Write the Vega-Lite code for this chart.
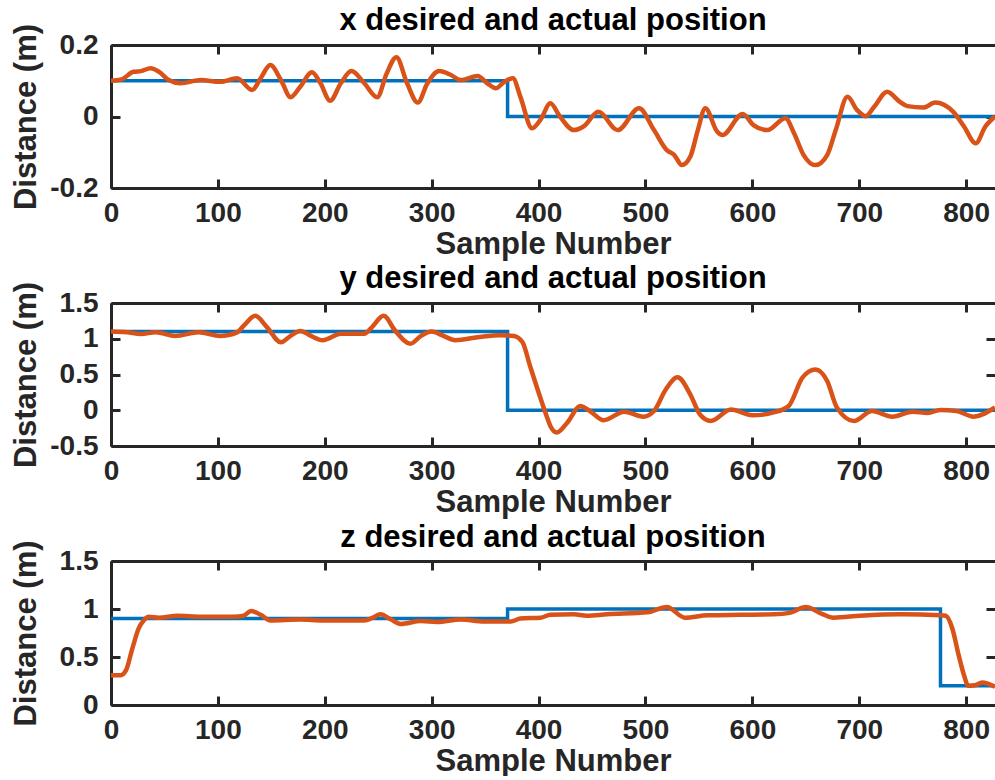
{
  "$schema": "https://vega.github.io/schema/vega-lite/v6.json",
  "padding": {"left": 10, "top": 5, "right": 0, "bottom": 0},
  "spacing": 115,
  "bounds": "flush",
  "datasets": {
    "xpos": [
      {"s": "desired", "n": 0, "v": 0.1},
      {"s": "desired", "n": 371, "v": 0},
      {"s": "desired", "n": 827, "v": 0},
      {"s": "actual", "n": 0, "v": 0.1},
      {"s": "actual", "n": 10, "v": 0.104},
      {"s": "actual", "n": 21, "v": 0.125},
      {"s": "actual", "n": 28, "v": 0.127},
      {"s": "actual", "n": 37, "v": 0.135},
      {"s": "actual", "n": 45, "v": 0.125},
      {"s": "actual", "n": 54, "v": 0.102},
      {"s": "actual", "n": 65, "v": 0.093},
      {"s": "actual", "n": 84, "v": 0.102},
      {"s": "actual", "n": 102, "v": 0.097},
      {"s": "actual", "n": 118, "v": 0.107},
      {"s": "actual", "n": 132, "v": 0.074},
      {"s": "actual", "n": 140, "v": 0.107},
      {"s": "actual", "n": 149, "v": 0.144},
      {"s": "actual", "n": 159, "v": 0.102},
      {"s": "actual", "n": 168, "v": 0.054},
      {"s": "actual", "n": 177, "v": 0.083},
      {"s": "actual", "n": 188, "v": 0.124},
      {"s": "actual", "n": 196, "v": 0.093},
      {"s": "actual", "n": 205, "v": 0.044},
      {"s": "actual", "n": 215, "v": 0.093},
      {"s": "actual", "n": 225, "v": 0.127},
      {"s": "actual", "n": 237, "v": 0.093},
      {"s": "actual", "n": 249, "v": 0.054},
      {"s": "actual", "n": 258, "v": 0.121},
      {"s": "actual", "n": 267, "v": 0.166},
      {"s": "actual", "n": 277, "v": 0.093},
      {"s": "actual", "n": 287, "v": 0.039},
      {"s": "actual", "n": 296, "v": 0.093},
      {"s": "actual", "n": 307, "v": 0.127},
      {"s": "actual", "n": 318, "v": 0.116},
      {"s": "actual", "n": 327, "v": 0.102},
      {"s": "actual", "n": 343, "v": 0.113},
      {"s": "actual", "n": 352, "v": 0.093},
      {"s": "actual", "n": 360, "v": 0.079},
      {"s": "actual", "n": 368, "v": 0.097},
      {"s": "actual", "n": 376, "v": 0.107},
      {"s": "actual", "n": 383, "v": 0.055},
      {"s": "actual", "n": 394, "v": -0.033},
      {"s": "actual", "n": 402, "v": -0.008},
      {"s": "actual", "n": 411, "v": 0.037},
      {"s": "actual", "n": 420, "v": 0.0},
      {"s": "actual", "n": 433, "v": -0.038},
      {"s": "actual", "n": 442, "v": -0.028},
      {"s": "actual", "n": 456, "v": 0.013},
      {"s": "actual", "n": 474, "v": -0.038},
      {"s": "actual", "n": 494, "v": 0.023},
      {"s": "actual", "n": 508, "v": -0.038},
      {"s": "actual", "n": 520, "v": -0.094},
      {"s": "actual", "n": 527, "v": -0.108},
      {"s": "actual", "n": 534, "v": -0.136},
      {"s": "actual", "n": 542, "v": -0.112},
      {"s": "actual", "n": 549, "v": -0.038},
      {"s": "actual", "n": 556, "v": 0.023},
      {"s": "actual", "n": 567, "v": -0.042},
      {"s": "actual", "n": 572, "v": -0.052},
      {"s": "actual", "n": 591, "v": 0.007},
      {"s": "actual", "n": 601, "v": -0.024},
      {"s": "actual", "n": 614, "v": -0.038},
      {"s": "actual", "n": 631, "v": -0.005},
      {"s": "actual", "n": 639, "v": -0.047},
      {"s": "actual", "n": 648, "v": -0.108},
      {"s": "actual", "n": 659, "v": -0.136},
      {"s": "actual", "n": 670, "v": -0.108},
      {"s": "actual", "n": 678, "v": -0.038},
      {"s": "actual", "n": 689, "v": 0.055},
      {"s": "actual", "n": 698, "v": 0.018},
      {"s": "actual", "n": 706, "v": 0.001},
      {"s": "actual", "n": 714, "v": 0.027},
      {"s": "actual", "n": 726, "v": 0.069},
      {"s": "actual", "n": 738, "v": 0.041},
      {"s": "actual", "n": 745, "v": 0.029},
      {"s": "actual", "n": 760, "v": 0.025},
      {"s": "actual", "n": 771, "v": 0.039},
      {"s": "actual", "n": 788, "v": 0.013},
      {"s": "actual", "n": 798, "v": -0.028},
      {"s": "actual", "n": 809, "v": -0.075},
      {"s": "actual", "n": 818, "v": -0.028},
      {"s": "actual", "n": 827, "v": 0.0}
    ],
    "ypos": [
      {"s": "desired", "n": 0, "v": 1.1},
      {"s": "desired", "n": 371, "v": 0},
      {"s": "desired", "n": 827, "v": 0},
      {"s": "actual", "n": 0, "v": 1.1},
      {"s": "actual", "n": 15, "v": 1.09},
      {"s": "actual", "n": 28, "v": 1.067},
      {"s": "actual", "n": 42, "v": 1.09},
      {"s": "actual", "n": 60, "v": 1.04},
      {"s": "actual", "n": 82, "v": 1.09},
      {"s": "actual", "n": 102, "v": 1.04},
      {"s": "actual", "n": 118, "v": 1.09},
      {"s": "actual", "n": 124, "v": 1.18},
      {"s": "actual", "n": 135, "v": 1.32},
      {"s": "actual", "n": 146, "v": 1.16},
      {"s": "actual", "n": 159, "v": 0.95},
      {"s": "actual", "n": 168, "v": 1.04},
      {"s": "actual", "n": 177, "v": 1.11},
      {"s": "actual", "n": 187, "v": 1.04},
      {"s": "actual", "n": 198, "v": 0.98},
      {"s": "actual", "n": 215, "v": 1.07},
      {"s": "actual", "n": 237, "v": 1.07},
      {"s": "actual", "n": 244, "v": 1.16},
      {"s": "actual", "n": 255, "v": 1.32},
      {"s": "actual", "n": 266, "v": 1.11},
      {"s": "actual", "n": 280, "v": 0.93},
      {"s": "actual", "n": 290, "v": 1.04},
      {"s": "actual", "n": 300, "v": 1.1},
      {"s": "actual", "n": 311, "v": 1.04},
      {"s": "actual", "n": 322, "v": 0.98},
      {"s": "actual", "n": 343, "v": 1.02},
      {"s": "actual", "n": 364, "v": 1.05},
      {"s": "actual", "n": 377, "v": 1.04},
      {"s": "actual", "n": 385, "v": 0.95},
      {"s": "actual", "n": 392, "v": 0.62},
      {"s": "actual", "n": 402, "v": 0.16},
      {"s": "actual", "n": 408, "v": -0.1},
      {"s": "actual", "n": 411, "v": -0.22},
      {"s": "actual", "n": 417, "v": -0.31},
      {"s": "actual", "n": 427, "v": -0.17},
      {"s": "actual", "n": 439, "v": 0.06},
      {"s": "actual", "n": 448, "v": -0.01},
      {"s": "actual", "n": 461, "v": -0.14},
      {"s": "actual", "n": 480, "v": -0.02},
      {"s": "actual", "n": 498, "v": -0.09},
      {"s": "actual", "n": 508, "v": -0.01},
      {"s": "actual", "n": 519, "v": 0.29},
      {"s": "actual", "n": 530, "v": 0.46},
      {"s": "actual", "n": 542, "v": 0.22},
      {"s": "actual", "n": 551, "v": -0.06},
      {"s": "actual", "n": 561, "v": -0.15},
      {"s": "actual", "n": 580, "v": 0.01},
      {"s": "actual", "n": 600, "v": -0.07},
      {"s": "actual", "n": 620, "v": -0.03},
      {"s": "actual", "n": 634, "v": 0.06},
      {"s": "actual", "n": 647, "v": 0.46},
      {"s": "actual", "n": 659, "v": 0.57},
      {"s": "actual", "n": 670, "v": 0.41},
      {"s": "actual", "n": 679, "v": 0.04},
      {"s": "actual", "n": 695, "v": -0.15},
      {"s": "actual", "n": 712, "v": -0.01},
      {"s": "actual", "n": 731, "v": -0.09},
      {"s": "actual", "n": 750, "v": -0.02},
      {"s": "actual", "n": 764, "v": -0.04},
      {"s": "actual", "n": 776, "v": 0.005},
      {"s": "actual", "n": 791, "v": -0.01},
      {"s": "actual", "n": 807, "v": -0.09},
      {"s": "actual", "n": 827, "v": 0.04}
    ],
    "zpos": [
      {"s": "desired", "n": 0, "v": 0.9},
      {"s": "desired", "n": 371, "v": 1.0},
      {"s": "desired", "n": 776, "v": 0.2},
      {"s": "desired", "n": 827, "v": 0.2},
      {"s": "actual", "n": 0, "v": 0.31},
      {"s": "actual", "n": 9, "v": 0.31},
      {"s": "actual", "n": 14, "v": 0.36},
      {"s": "actual", "n": 20, "v": 0.59},
      {"s": "actual", "n": 26, "v": 0.8},
      {"s": "actual", "n": 31, "v": 0.885},
      {"s": "actual", "n": 35, "v": 0.92},
      {"s": "actual", "n": 45, "v": 0.91},
      {"s": "actual", "n": 62, "v": 0.93},
      {"s": "actual", "n": 84, "v": 0.92},
      {"s": "actual", "n": 115, "v": 0.92},
      {"s": "actual", "n": 124, "v": 0.93},
      {"s": "actual", "n": 131, "v": 0.98},
      {"s": "actual", "n": 140, "v": 0.94},
      {"s": "actual", "n": 149, "v": 0.88},
      {"s": "actual", "n": 177, "v": 0.89},
      {"s": "actual", "n": 198, "v": 0.88},
      {"s": "actual", "n": 237, "v": 0.88},
      {"s": "actual", "n": 245, "v": 0.91},
      {"s": "actual", "n": 252, "v": 0.945},
      {"s": "actual", "n": 262, "v": 0.89},
      {"s": "actual", "n": 271, "v": 0.845},
      {"s": "actual", "n": 290, "v": 0.875},
      {"s": "actual", "n": 305, "v": 0.865},
      {"s": "actual", "n": 327, "v": 0.89},
      {"s": "actual", "n": 349, "v": 0.87},
      {"s": "actual", "n": 374, "v": 0.87},
      {"s": "actual", "n": 383, "v": 0.9},
      {"s": "actual", "n": 402, "v": 0.91},
      {"s": "actual", "n": 411, "v": 0.94},
      {"s": "actual", "n": 433, "v": 0.945},
      {"s": "actual", "n": 445, "v": 0.93},
      {"s": "actual", "n": 464, "v": 0.945},
      {"s": "actual", "n": 502, "v": 0.965},
      {"s": "actual", "n": 520, "v": 1.02},
      {"s": "actual", "n": 537, "v": 0.91},
      {"s": "actual", "n": 558, "v": 0.935},
      {"s": "actual", "n": 589, "v": 0.94},
      {"s": "actual", "n": 620, "v": 0.945},
      {"s": "actual", "n": 635, "v": 0.96},
      {"s": "actual", "n": 650, "v": 1.02},
      {"s": "actual", "n": 665, "v": 0.95},
      {"s": "actual", "n": 676, "v": 0.91},
      {"s": "actual", "n": 701, "v": 0.93},
      {"s": "actual", "n": 739, "v": 0.945},
      {"s": "actual", "n": 776, "v": 0.935},
      {"s": "actual", "n": 781, "v": 0.93},
      {"s": "actual", "n": 787, "v": 0.8},
      {"s": "actual", "n": 793, "v": 0.52},
      {"s": "actual", "n": 798, "v": 0.31},
      {"s": "actual", "n": 802, "v": 0.2},
      {"s": "actual", "n": 808, "v": 0.205},
      {"s": "actual", "n": 815, "v": 0.235},
      {"s": "actual", "n": 827, "v": 0.19}
    ]
  },
  "vconcat": [
    {
      "title": "x desired and actual position",
      "width": 884,
      "height": 143,
      "data": {"name": "xpos"},
      "layer": [
        {
          "transform": [{"filter": "datum.s == 'desired'"}],
          "mark": {"type": "line", "interpolate": "step-after", "color": "#0072BD", "strokeWidth": 3.5, "clip": true},
          "encoding": {
            "x": {"field": "n", "type": "quantitative", "scale": {"domain": [0, 827], "nice": false},
                  "axis": {"orient": "bottom", "title": "Sample Number", "values": [0, 100, 200, 300, 400, 500, 600, 700, 800]}},
            "y": {"field": "v", "type": "quantitative", "scale": {"domain": [-0.2, 0.2], "nice": false, "zero": false},
                  "axis": {"orient": "left", "title": "Distance (m)", "values": [-0.2, 0, 0.2], "labelExpr": "toString(datum.value)"}}
          }
        },
        {
          "transform": [{"filter": "datum.s == 'actual'"}],
          "mark": {"type": "line", "interpolate": "monotone", "color": "#D95319", "strokeWidth": 4.5, "clip": true},
          "encoding": {
            "x": {"field": "n", "type": "quantitative",
                  "axis": {"orient": "top", "title": null, "labels": false, "values": [0, 100, 200, 300, 400, 500, 600, 700, 800]}},
            "y": {"field": "v", "type": "quantitative",
                  "axis": {"orient": "right", "title": null, "labels": false, "domain": false, "values": [-0.2, 0, 0.2]}}
          }
        }
      ],
      "resolve": {"axis": {"x": "independent", "y": "independent"}}
    },
    {
      "title": "y desired and actual position",
      "width": 884,
      "height": 143,
      "data": {"name": "ypos"},
      "layer": [
        {
          "transform": [{"filter": "datum.s == 'desired'"}],
          "mark": {"type": "line", "interpolate": "step-after", "color": "#0072BD", "strokeWidth": 3.5, "clip": true},
          "encoding": {
            "x": {"field": "n", "type": "quantitative", "scale": {"domain": [0, 827], "nice": false},
                  "axis": {"orient": "bottom", "title": "Sample Number", "values": [0, 100, 200, 300, 400, 500, 600, 700, 800]}},
            "y": {"field": "v", "type": "quantitative", "scale": {"domain": [-0.5, 1.5], "nice": false, "zero": false},
                  "axis": {"orient": "left", "title": "Distance (m)", "values": [-0.5, 0, 0.5, 1, 1.5], "labelExpr": "toString(datum.value)"}}
          }
        },
        {
          "transform": [{"filter": "datum.s == 'actual'"}],
          "mark": {"type": "line", "interpolate": "monotone", "color": "#D95319", "strokeWidth": 4.5, "clip": true},
          "encoding": {
            "x": {"field": "n", "type": "quantitative",
                  "axis": {"orient": "top", "title": null, "labels": false, "values": [0, 100, 200, 300, 400, 500, 600, 700, 800]}},
            "y": {"field": "v", "type": "quantitative",
                  "axis": {"orient": "right", "title": null, "labels": false, "domain": false, "values": [-0.5, 0, 0.5, 1, 1.5]}}
          }
        }
      ],
      "resolve": {"axis": {"x": "independent", "y": "independent"}}
    },
    {
      "title": "z desired and actual position",
      "width": 884,
      "height": 144,
      "data": {"name": "zpos"},
      "layer": [
        {
          "transform": [{"filter": "datum.s == 'desired'"}],
          "mark": {"type": "line", "interpolate": "step-after", "color": "#0072BD", "strokeWidth": 3.5, "clip": true},
          "encoding": {
            "x": {"field": "n", "type": "quantitative", "scale": {"domain": [0, 827], "nice": false},
                  "axis": {"orient": "bottom", "title": "Sample Number", "values": [0, 100, 200, 300, 400, 500, 600, 700, 800]}},
            "y": {"field": "v", "type": "quantitative", "scale": {"domain": [0, 1.5], "nice": false, "zero": false},
                  "axis": {"orient": "left", "title": "Distance (m)", "values": [0, 0.5, 1, 1.5], "labelExpr": "toString(datum.value)"}}
          }
        },
        {
          "transform": [{"filter": "datum.s == 'actual'"}],
          "mark": {"type": "line", "interpolate": "monotone", "color": "#D95319", "strokeWidth": 4.5, "clip": true},
          "encoding": {
            "x": {"field": "n", "type": "quantitative",
                  "axis": {"orient": "top", "title": null, "labels": false, "values": [0, 100, 200, 300, 400, 500, 600, 700, 800]}},
            "y": {"field": "v", "type": "quantitative",
                  "axis": {"orient": "right", "title": null, "labels": false, "domain": false, "values": [0, 0.5, 1, 1.5]}}
          }
        }
      ],
      "resolve": {"axis": {"x": "independent", "y": "independent"}}
    }
  ],
  "config": {
    "font": "Liberation Sans",
    "view": {"stroke": null},
    "axis": {
      "grid": false,
      "domainColor": "#262626",
      "domainWidth": 3,
      "tickColor": "#262626",
      "tickWidth": 3,
      "tickSize": -9,
      "labelFlush": false,
      "labelFont": "Liberation Sans",
      "labelFontSize": 28,
      "labelFontWeight": "bold",
      "labelColor": "#262626",
      "titleFont": "Liberation Sans",
      "titleFontSize": 31,
      "titleFontWeight": "bold",
      "titleColor": "#262626"
    },
    "axisX": {"labelPadding": 20, "titlePadding": 2},
    "axisY": {"labelPadding": 22, "titleX": -75.5, "titleBaseline": "alphabetic"},
    "title": {
      "font": "Liberation Sans",
      "fontSize": 31,
      "fontWeight": "bold",
      "color": "#000000",
      "anchor": "middle",
      "frame": "group",
      "baseline": "alphabetic",
      "offset": -14
    }
  }
}
